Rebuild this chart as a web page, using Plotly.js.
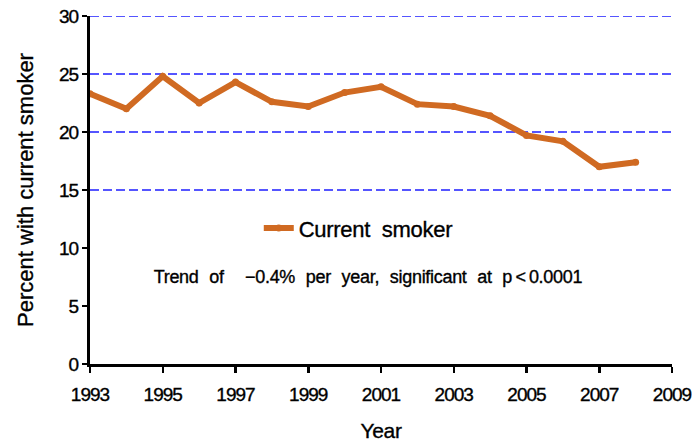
<!DOCTYPE html>
<html>
<head>
<meta charset="utf-8">
<script src="https://cdn.plot.ly/plotly-3.0.1.min.js"></script>
<style>
html,body{margin:0;padding:0;background:#fff;}
#chart{width:700px;height:442px;}
#chart svg text{stroke:#000;stroke-width:0.35px;}
#chart .xtick text, #chart .ytick text{letter-spacing:-1px;}
#chart .legendtext, #chart .annotation-text, #chart .g-xtitle text{letter-spacing:-0.3px; word-spacing:6px;}
</style>
</head>
<body>
<div id="chart"></div>
<script>
const years = [1993,1994,1995,1996,1997,1998,1999,2000,2001,2002,2003,2004,2005,2006,2007,2008];
const currentSmoker = [23.3,22.0,24.8,22.5,24.3,22.6,22.2,23.4,23.9,22.4,22.2,21.4,19.7,19.2,17.0,17.4];
const seriesName = "Current smoker";
const xTicks = [1993,1995,1997,1999,2001,2003,2005,2007,2009];
const yTicks = [0,5,10,15,20,25,30];
const gridValues = [15,20,25,30];
const trendText = "Trend of  \u22120.4% per year, significant at p\u2009<\u20090.0001";

const font = "Liberation Sans, Arial, sans-serif";
const lineColor = "#D06A22";

const trace = {
  x: years, y: currentSmoker, name: seriesName, type: "scatter", mode: "lines+markers",
  line: {color: lineColor, width: 6},
  marker: {color: lineColor, size: 7}
};

const shapes = gridValues.map(v => ({
  type: "line", xref: "paper", yref: "y", x0: 0, x1: 1, y0: v, y1: v,
  line: {color: "#1e1eff", width: 1.4, dash: "9px,4px"}, layer: "below"
}));

const layout = {
  width: 700, height: 442,
  margin: {l: 90, r: 28, t: 16, b: 78},
  paper_bgcolor: "#fff", plot_bgcolor: "#fff",
  font: {family: font, color: "#000", size: 15},
  showlegend: true,
  legend: {x: 0.29, y: 0.39, xanchor: "left", yanchor: "middle", font: {size: 22, family: font}, bgcolor: "rgba(0,0,0,0)"},
  xaxis: {
    range: [1993, 2009], tickvals: xTicks, ticktext: xTicks.map(String),
    showgrid: false, zeroline: false, showline: true, linecolor: "#000", linewidth: 3,
    ticks: "outside", ticklen: 6, tickwidth: 2.5, tickcolor: "#000", ticklabelstandoff: 5,
    tickfont: {size: 19, family: font},
    title: {text: "Year", font: {size: 21, family: font}, standoff: 24}
  },
  yaxis: {
    range: [0, 30], tickvals: yTicks,
    showgrid: false, zeroline: false, showline: true, linecolor: "#000", linewidth: 3,
    ticks: "outside", ticklen: 5, tickwidth: 2.5, tickcolor: "#000",
    tickfont: {size: 19, family: font},
    title: {text: "Percent with current smoker", font: {size: 22, family: font}, standoff: 18}
  },
  shapes: shapes,
  annotations: [{
    text: trendText, xref: "paper", yref: "paper", x: 0.478, y: 0.25,
    xanchor: "center", yanchor: "middle", showarrow: false, font: {size: 18, family: font}
  }]
};

Plotly.newPlot("chart", [trace], layout, {displayModeBar: false, staticPlot: true});
</script>
</body>
</html>
